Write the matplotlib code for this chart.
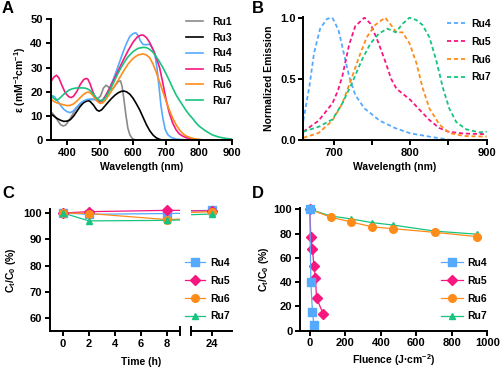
import matplotlib
matplotlib.use("Agg")
import matplotlib.pyplot as plt
from matplotlib.lines import Line2D

plt.rcParams['font.family'] = ['Liberation Sans', 'DejaVu Sans']
plt.rcParams['font.weight'] = 'bold'
plt.rcParams['axes.labelweight'] = 'bold'
plt.rcParams['mathtext.fontset'] = 'custom'
plt.rcParams['mathtext.rm'] = 'Liberation Sans:bold'
plt.rcParams['mathtext.it'] = 'Liberation Sans:bold'
plt.rcParams['mathtext.bf'] = 'Liberation Sans:bold'
plt.rcParams['mathtext.default'] = 'rm'
plt.rcParams['lines.scale_dashes'] = False

# ---------------- colours ----------------
C_RU1 = '#8a8a8a'
C_RU3 = '#000000'
C_RU4 = '#55aaff'
C_RU5 = '#f7177f'
C_RU6 = '#ff8c1a'
C_RU7 = '#17c47f'

# ---------------- Panel A : absorption ----------------
a_ru1_x = [350,360,370,380,388,395,400,410,420,430,440,450,460,470,480,490,500,505,510,518,525,532,540,548,555,562,567,572,578,584,590,596,602,610,620,900]
a_ru1_y = [12,10.5,8.5,6.5,5.9,6.2,7,9,11.5,13.5,15,16,16.5,16.8,16.8,17,18,19.5,21.5,22.7,22,20.9,21.5,23,24.2,24.5,22,17,10.5,5,2.3,1,0.4,0.1,0,0]
a_ru3_x = [350,360,370,380,390,400,410,420,430,440,450,460,465,470,480,490,497,505,515,525,535,545,555,565,572,580,590,600,610,620,630,640,650,660,670,680,690,700,900]
a_ru3_y = [11,10,9,8.3,7.8,7.9,8.5,10,12,14,15.5,16.2,16.3,16,14.5,12.5,12,12.6,14.2,15.8,17.3,18.6,19.6,20.2,20.3,20,19,17.3,15,12.5,9.5,6.5,4,2.2,1,0.4,0.1,0,0]
a_ru4_x = [350,356,362,370,380,390,400,410,420,430,440,450,460,470,480,490,500,510,520,530,540,550,560,570,580,590,600,608,615,622,630,640,650,658,665,672,678,684,690,697,705,715,730,760,900]
a_ru4_y = [17.5,18.3,18,16.5,14.5,12.8,11.8,11.4,12.2,13.8,15.2,16.2,16.8,17,16.9,16.6,16.2,17,19,21.8,25.2,28.8,32.7,36.5,40,42.8,44,44.3,43.2,41,39.5,39.4,39.6,38,36,30,22.5,14.5,9,4.5,2.3,1.2,0.5,0.15,0]
a_ru5_x = [350,360,368,375,385,395,405,412,420,430,440,450,458,463,470,478,485,492,500,507,515,525,540,555,570,585,600,612,622,630,640,650,660,670,680,690,700,710,720,730,740,750,760,775,790,810,850,900]
a_ru5_y = [24,26,26.8,25.8,22.5,19.5,18,17.6,18.2,20.2,23,25,25.5,25.2,23.2,20,17.8,16.3,15.8,16.3,18,20.5,24.5,28.8,33,37,40.5,42.5,43.3,43.4,42.4,40.3,37.5,34,30,23.5,16.5,11,7,4.3,2.6,1.7,1.1,0.6,0.3,0.15,0.05,0]
a_ru6_x = [350,360,370,380,390,400,410,420,430,440,450,460,467,475,483,492,500,508,516,525,540,555,570,585,600,615,630,640,650,660,670,680,690,700,710,720,730,740,750,760,775,790,810,850,900]
a_ru6_y = [17.2,16,15.4,15,14.6,14.3,14.4,15,16.2,17.6,18.9,19.8,19.8,19,17.5,16,15.2,15.4,16.6,18.3,21.5,24.8,28.3,31.5,33.8,35.2,35.6,35.2,34,31.5,28,24,20,16,12.3,9,6.4,4.3,2.8,1.8,1,0.5,0.2,0.05,0]
a_ru7_x = [350,358,367,375,385,395,405,415,425,435,445,455,462,470,480,490,500,507,515,525,540,555,570,585,600,615,630,640,650,660,670,680,690,700,710,720,730,740,750,760,770,780,790,800,820,840,860,880,900]
a_ru7_y = [19,17.5,16.5,17,18.3,19.6,20.6,21.2,21.5,21.6,21.6,21.5,21.2,20.5,19,17.3,16.3,16.4,17.4,19.5,23.5,27.8,31.5,34.5,36.6,37.9,38.3,38.2,37.5,36.3,34.4,32.3,30,27.3,24.5,21.5,18.7,16.5,14.4,12.3,10.5,9,7.2,5.8,3.8,2.2,1.3,0.8,0.5]

# ---------------- Panel B : emission ----------------
b_ru4_x = [660,668,674,682,691,698,706,713,720,728,740,760,780,800,825,850,870,900]
b_ru4_y = [0.16,0.44,0.71,0.91,0.99,1.0,0.9,0.71,0.52,0.37,0.26,0.16,0.1,0.057,0.03,0.005,0,0]
b_ru5_x = [660,680,698,705,711,720,728,740,748,758,768,775,782,790,800,812,825,838,850,870,900]
b_ru5_y = [0.07,0.16,0.3,0.4,0.52,0.78,0.93,1.0,0.95,0.8,0.63,0.5,0.42,0.38,0.33,0.25,0.165,0.1,0.07,0.055,0.05]
b_ru6_x = [660,680,698,711,724,733,743,754,767,776,782,790,799,808,816,825,838,851,870,900]
b_ru6_y = [0.02,0.06,0.16,0.3,0.52,0.68,0.84,0.94,1.0,0.93,0.88,0.88,0.79,0.63,0.43,0.26,0.13,0.06,0.035,0.03]
b_ru7_x = [660,680,698,711,724,737,748,759,770,781,790,799,808,816,825,834,843,851,860,873,890,900]
b_ru7_y = [0.07,0.11,0.17,0.3,0.47,0.66,0.79,0.87,0.91,0.88,0.95,1.0,0.98,0.94,0.84,0.65,0.42,0.26,0.15,0.09,0.065,0.07]

# ---------------- Panel C : dark stability ----------------
c_time = [0, 2, 8, 24]
c_ru4 = [100, 99.5, 99.8, 101]
c_ru5 = [100, 100.5, 101, 100.8]
c_ru6 = [100, 99.8, 97.5, 100.5]
c_ru7 = [100, 97.0, 97.2, 99.6]

# ---------------- Panel D : photostability ----------------
d_ru4_x = [0, 6, 15, 23]
d_ru4_y = [100, 40.5, 15.5, 5]
d_ru5_x = [0, 6, 15, 23, 32, 38, 75]
d_ru5_y = [100, 77.5, 67.5, 53.5, 43.5, 27, 14]
d_ru6_x = [0, 117, 235, 352, 470, 705, 940]
d_ru6_y = [100, 93.5, 89.5, 85.5, 84, 81, 77.5]
d_ru7_x = [0, 117, 235, 352, 470, 705, 940]
d_ru7_y = [100, 94.5, 92, 89, 87, 82, 79.5]

SPW = 1.4
TICKFS = 8
LABFS = 7.5
LEGFS = 7.5

fig = plt.figure(figsize=(5, 3.7), dpi=100)
W, H = 500.0, 370.0

def axes_px(l, t, r, b):
    return fig.add_axes([l / W, 1 - b / H, (r - l) / W, (b - t) / H])

def style(ax):
    for s in ['top', 'right']:
        ax.spines[s].set_visible(False)
    for s in ['left', 'bottom']:
        ax.spines[s].set_linewidth(SPW)
    ax.tick_params(direction='out', length=3.5, width=SPW, labelsize=TICKFS, pad=2)
    for lab in ax.get_xticklabels() + ax.get_yticklabels():
        lab.set_fontweight('bold')

def fig_legend(handles, labels, x, y, hl, htp, ls):
    fig.legend(handles, labels, loc='upper left', bbox_to_anchor=(x / W, 1 - y / H),
               bbox_transform=fig.transFigure, frameon=False, fontsize=LEGFS,
               handlelength=hl, handletextpad=htp, labelspacing=ls,
               borderaxespad=0, borderpad=0)

# ---- A ----
axA = axes_px(50.5, 19, 232.3, 140.3)
for x, y, c, n in [(a_ru1_x, a_ru1_y, C_RU1, 'Ru1'), (a_ru3_x, a_ru3_y, C_RU3, 'Ru3'),
                   (a_ru4_x, a_ru4_y, C_RU4, 'Ru4'), (a_ru5_x, a_ru5_y, C_RU5, 'Ru5'),
                   (a_ru6_x, a_ru6_y, C_RU6, 'Ru6'), (a_ru7_x, a_ru7_y, C_RU7, 'Ru7')]:
    axA.plot(x, y, color=c, lw=1.2, label=n)
axA.set_xlim(350, 900)
axA.set_ylim(0, 50)
axA.set_xticks([400, 500, 600, 700, 800, 900])
axA.set_yticks([0, 10, 20, 30, 40, 50])
style(axA)
axA.set_xlabel('Wavelength (nm)', fontsize=LABFS, labelpad=3)
axA.set_ylabel(r'ε (mM$^{-1}$cm$^{-1}$)', fontsize=LABFS, labelpad=2)
hA, lA = axA.get_legend_handles_labels()
fig_legend(hA, lA, 186, 17, 1.6, 0.9, 0.55)

# ---- B ----
axB = axes_px(303.3, 17.0, 486.7, 140.3)
for x, y, c, n in [(b_ru4_x, b_ru4_y, C_RU4, 'Ru4'), (b_ru5_x, b_ru5_y, C_RU5, 'Ru5'),
                   (b_ru6_x, b_ru6_y, C_RU6, 'Ru6'), (b_ru7_x, b_ru7_y, C_RU7, 'Ru7')]:
    axB.plot(x, y, color=c, lw=1.3, dashes=(3, 2), label=n)
axB.set_xlim(660, 900)
axB.set_ylim(0, 1.005)
axB.set_xticks([700, 750, 800, 850, 900])
axB.set_xticklabels(['700', '', '800', '', '900'])
axB.set_yticks([0, 0.5, 1.0])
axB.set_yticklabels(['0.0', '0.5', '1.0'])
style(axB)
axB.set_xlabel('Wavelength (nm)', fontsize=LABFS, labelpad=3)
axB.set_ylabel('Normalized Emission', fontsize=LABFS, labelpad=4)
hB, lB = axB.get_legend_handles_labels()
fig_legend(hB, lB, 447, 19, 1.8, 0.55, 0.75)

# ---- C ----
axC1 = axes_px(50, 209.3, 180, 331)
axC2 = axes_px(191, 209.3, 231.7, 331)
axC2.patch.set_visible(False)
series_c = [(c_ru4, C_RU4, 's', 5.5, 'Ru4'), (c_ru5, C_RU5, 'D', 5.0, 'Ru5'),
            (c_ru6, C_RU6, 'o', 5.5, 'Ru6'), (c_ru7, C_RU7, '^', 5.0, 'Ru7')]
for ax, lo, hi in [(axC1, -1, 9), (axC2, 22.4, 25.5)]:
    for yv, c, m, ms, n in series_c:
        ax.plot(c_time, yv, color=c, lw=0.9, zorder=2)
        xs = [t for t in c_time if lo <= t <= hi]
        ys = [v for t, v in zip(c_time, yv) if lo <= t <= hi]
        ax.plot(xs, ys, ls='none', marker=m, ms=ms, color=c, clip_on=False, zorder=3)
    ax.set_xlim(lo, hi)
    ax.set_ylim(55.2, 101.4)
axC1.set_xticks([0, 2, 4, 6, 8])
axC1.set_yticks([60, 70, 80, 90, 100])
axC2.set_xticks([24])
style(axC1)
style(axC2)
axC2.spines['left'].set_visible(False)
axC2.tick_params(axis='y', left=False, labelleft=False)
for ax, xb in [(axC1, 1), (axC2, 0)]:
    ax.plot([xb, xb], [-0.035, 0.035], transform=ax.transAxes, color='k', lw=SPW, clip_on=False)
axC1.set_ylabel(r'C$_t$/C$_0$ (%)', fontsize=LABFS, labelpad=4)
fig.text(141 / W, 1 - 362 / H, 'Time (h)', ha='center', va='center', fontsize=LABFS, fontweight='bold')
handles_c = [Line2D([], [], color=c, lw=0.9, marker=m, ms=ms) for _, c, m, ms, _ in series_c]
fig_legend(handles_c, [s[4] for s in series_c], 185, 258, 1.9, 0.55, 0.75)

# ---- D ----
axD = axes_px(300, 207.7, 487.3, 330.7)
series_d = [(d_ru4_x, d_ru4_y, C_RU4, 's', 5.5, 'Ru4'), (d_ru5_x, d_ru5_y, C_RU5, 'D', 5.0, 'Ru5'),
            (d_ru6_x, d_ru6_y, C_RU6, 'o', 5.5, 'Ru6'), (d_ru7_x, d_ru7_y, C_RU7, '^', 4.5, 'Ru7')]
for x, y, c, m, ms, n in [series_d[3], series_d[2], series_d[1], series_d[0]]:
    axD.plot(x, y, color=c, lw=0.9, marker=m, ms=ms, clip_on=False, label=n)
axD.set_xlim(-55, 1000)
axD.set_ylim(0, 101.3)
axD.set_xticks([0, 200, 400, 600, 800, 1000])
axD.set_yticks([0, 20, 40, 60, 80, 100])
style(axD)
axD.set_xlabel(r'Fluence (J·cm$^{-2}$)', fontsize=LABFS, labelpad=3)
axD.set_ylabel(r'C$_t$/C$_0$ (%)', fontsize=LABFS, labelpad=2)
handles_d = [Line2D([], [], color=c, lw=0.9, marker=m, ms=ms) for _, _, c, m, ms, _ in series_d]
fig_legend(handles_d, [s[5] for s in series_d], 441, 258, 2.1, 0.45, 0.75)

# panel letters
for lbl, x, y in [('A', 2, 1), ('B', 252, 1), ('C', 2, 186), ('D', 252, 186)]:
    fig.text(x / W, 1 - y / H, lbl, ha='left', va='top', fontsize=12, fontweight='bold')

fig.savefig('out.png', dpi=100)
